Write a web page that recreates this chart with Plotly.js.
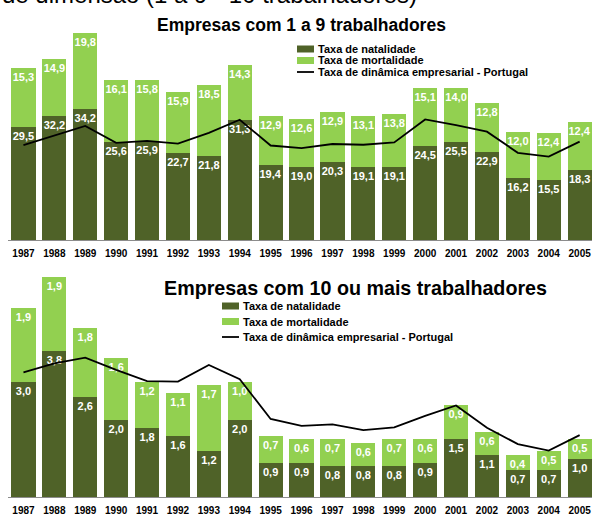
<!DOCTYPE html>
<html>
<head>
<meta charset="utf-8">
<script src="https://cdn.plot.ly/plotly-3.0.1.min.js"></script>
<style>html,body{margin:0;padding:0;background:#fff;}#chart{width:592px;height:516px;}</style>
</head>
<body>
<div id="chart"></div>
<script>
// ---- Data ----
const years = ["1987","1988","1989","1990","1991","1992","1993","1994","1995","1996","1997","1998","1999","2000","2001","2002","2003","2004","2005"];

// Empresas com 1 a 9 trabalhadores
const natal_small = [29.5,32.2,34.2,25.6,25.9,22.7,21.8,31.3,19.4,19.0,20.3,19.1,19.1,24.5,25.5,22.9,16.2,15.5,18.3];
const mort_small  = [15.3,14.9,19.8,16.1,15.8,15.9,18.5,14.3,12.9,12.6,12.9,13.1,13.8,15.1,14.0,12.8,12.0,12.4,12.4];
const dyn_pt_small = [24.7,27.2,29.7,25.3,25.8,25.1,27.9,31.3,24.6,23.9,25.0,24.8,25.4,31.4,29.9,28.2,22.7,21.7,25.6];

// Empresas com 10 ou mais trabalhadores
const natal_large = [3.0,3.8,2.6,2.0,1.8,1.6,1.2,2.0,0.9,0.9,0.8,0.8,0.8,0.9,1.5,1.1,0.7,0.7,1.0];
const mort_large  = [1.9,1.9,1.8,1.6,1.2,1.1,1.7,1.0,0.7,0.6,0.7,0.6,0.7,0.6,0.9,0.6,0.4,0.5,0.5];
const dyn_pt_large = [3.24,3.47,3.62,3.30,3.01,3.00,3.43,3.06,2.03,1.85,1.89,1.74,1.81,2.11,2.38,1.80,1.38,1.21,1.61];

const seriesNames = ["Taxa de natalidade","Taxa de mortalidade","Taxa de dinâmica empresarial - Portugal"];
const titleSmall = "Empresas com 1 a 9 trabalhadores";
const titleLarge = "Empresas com 10 ou mais trabalhadores";
const cutTitle = "de dimensão (1 a 9 - 10 trabalhadores)";

// ---- Styles ----
const FONT = "Liberation Sans, Arial, sans-serif";
const DARK = "#4F6228";
const LIGHT = "#92D050";
const W = 592, H = 516;
const px = x => x / W;
const py = y => 1 - y / H;

function barTrace(y, color, name, xa, ya) {
  return {
    type: "bar", x: years, y: y, name: name, xaxis: xa, yaxis: ya,
    marker: {color: color},
    texttemplate: "%{y:.1f}", textposition: "inside", insidetextanchor: "end",
    textangle: 0, constraintext: "none",
    textfont: {family: FONT, size: 11, color: "#ffffff", weight: "bold"},
    hoverinfo: "none", showlegend: false
  };
}
function lineTrace(y, xa, ya) {
  return {
    type: "scatter", mode: "lines", x: years, y: y, name: seriesNames[2],
    xaxis: xa, yaxis: ya, line: {color: "#000000", width: 1.8},
    hoverinfo: "none", showlegend: false
  };
}

const data = [
  barTrace(natal_small, DARK, seriesNames[0], "x", "y"),
  barTrace(mort_small, LIGHT, seriesNames[1], "x", "y"),
  lineTrace(dyn_pt_small, "x", "y"),
  barTrace(natal_large, DARK, seriesNames[0], "x2", "y2"),
  barTrace(mort_large, LIGHT, seriesNames[1], "x2", "y2"),
  lineTrace(dyn_pt_large, "x2", "y2")
];

const xCommon = {
  type: "category", range: [-0.5, 18.4], showline: true, linecolor: "#8c8c8c", linewidth: 1,
  ticks: "", showgrid: false, zeroline: false, fixedrange: true, ticklabelstandoff: 4,
  tickfont: {family: FONT, size: 10, color: "#000000", weight: "bold"}
};

// custom legend (shapes + text)
function legendBlock(x0, x1, rows, rectH) {
  const shapes = [], anns = [];
  const colors = [DARK, LIGHT];
  rows.forEach((ry, i) => {
    if (i < 2) {
      shapes.push({type: "rect", xref: "paper", yref: "paper",
        x0: px(x0), x1: px(x1), y0: py(ry + rectH / 2), y1: py(ry - rectH / 2),
        fillcolor: colors[i], line: {width: 0}});
    } else {
      shapes.push({type: "line", xref: "paper", yref: "paper",
        x0: px(x0), x1: px(x1), y0: py(ry), y1: py(ry),
        line: {color: "#000000", width: 1.8}});
    }
    anns.push({xref: "paper", yref: "paper", x: px(x1 + 2), y: py(ry), xanchor: "left", yanchor: "middle",
      text: seriesNames[i], showarrow: false,
      font: {family: FONT, size: 11, color: "#000000", weight: "bold"}});
  });
  return {shapes, anns};
}
const lg1 = legendBlock(297, 314, [49, 60.5, 72], 7);
const lg2 = legendBlock(222, 239, [306, 321.5, 337], 7);

const annotations = [
  {xref: "paper", yref: "paper", x: px(0), y: py(9.5), xanchor: "left", yanchor: "bottom",
   text: cutTitle, showarrow: false, font: {family: FONT, size: 24, color: "#000000"}},
  {xref: "paper", yref: "paper", x: px(301), y: py(25), xanchor: "center", yanchor: "middle",
   text: titleSmall, showarrow: false, font: {family: FONT, size: 17.5, color: "#000000", weight: "bold"}},
  {xref: "paper", yref: "paper", x: px(355), y: py(288), xanchor: "center", yanchor: "middle",
   text: titleLarge, showarrow: false, font: {family: FONT, size: 19.7, color: "#000000", weight: "bold"}}
].concat(lg1.anns, lg2.anns);

const layout = {
  width: W, height: H, margin: {l: 0, r: 0, t: 0, b: 0},
  paper_bgcolor: "#ffffff", plot_bgcolor: "#ffffff",
  barmode: "stack", bargap: 0.22, separators: ", ",
  uniformtext: {mode: "show", minsize: 11},
  showlegend: false,
  font: {family: FONT, color: "#000000"},
  xaxis: Object.assign({}, xCommon, {domain: [8 / W, 1], anchor: "y"}),
  yaxis: {domain: [py(240), py(28)], range: [0, 55.2], visible: false, fixedrange: true},
  xaxis2: Object.assign({}, xCommon, {domain: [8 / W, 1], anchor: "y2"}),
  yaxis2: {domain: [py(497.3), py(265)], range: [0, 6.02], visible: false, fixedrange: true},
  shapes: lg1.shapes.concat(lg2.shapes),
  annotations: annotations
};

Plotly.newPlot("chart", data, layout, {displayModeBar: false, staticPlot: true});
</script>
</body>
</html>
